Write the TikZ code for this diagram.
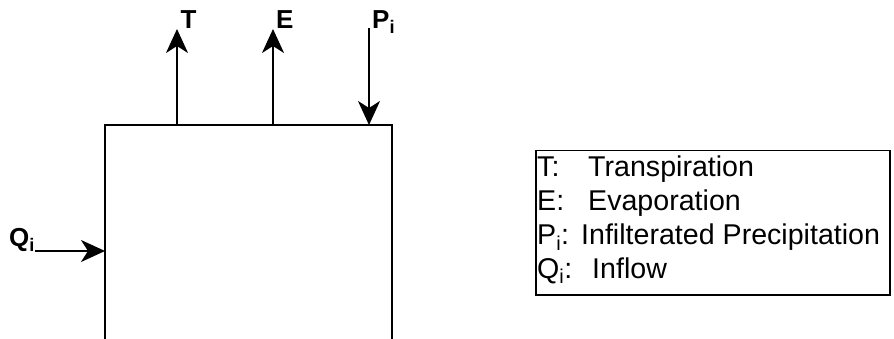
\documentclass[tikz,border=0pt]{standalone}
\usepackage{fontspec}
\setmainfont{Liberation Sans}
\usetikzlibrary{arrows.meta}
\begin{document}
\begin{tikzpicture}[x=1pt,y=-1pt,
  flow/.style={line width=2pt,-{Stealth[length=24pt,width=22pt,inset=7pt]}},
  wall/.style={line width=2pt},
  lbl/.style={font=\fontsize{26}{30}\selectfont\bfseries,inner sep=0pt,anchor=base west},
  legline/.style={font=\fontsize{28.6}{34}\selectfont,inner sep=0pt,anchor=base west},
  legbox/.style={draw,line width=1.5pt,inner sep=0pt}]
\useasboundingbox (0,0) rectangle (894,339);
% open-bottom box
\coordinate (bl) at (105,340);
\coordinate (tl) at (105,125);
\coordinate (tr) at (392,125);
\coordinate (br) at (392,340);
\draw[wall] (bl) -- (tl) -- (tr) -- (br);
% transpiration
\coordinate (tb) at (177,125);
\coordinate (tt) at (177,29);
\draw[flow] (tb) -- (tt);
\node[lbl] (T) at (180.5,29) {T};
% evaporation
\coordinate (eb) at (273,125);
\coordinate (et) at (273,29);
\draw[flow] (eb) -- (et);
\node[lbl] (E) at (276,29) {E};
% precipitation
\coordinate (pt) at (369,28);
\coordinate (pb) at (369,125);
\draw[flow] (pt) -- (pb);
\node[lbl] (P) at (372,29) {P\textsubscript{i}};
% inflow
\node[lbl] (Q) at (9,247) {Q\textsubscript{i}};
\coordinate (qs) at (35,251);
\coordinate (qe) at (105,251);
\draw[flow] (qs) -- (qe);
% legend
\node[legbox,minimum width=354pt,minimum height=144pt,anchor=north west] (leg) at (535,150) {};
\node[legline] (l1) at (537,177) {\makebox[51pt][l]{T:}Transpiration};
\node[legline] (l2) at (537,210.7) {\makebox[51pt][l]{E:}Evaporation};
\node[legline] (l3) at (537,244.4) {\makebox[44pt][l]{P\textsubscript{i}:}Infilterated Precipitation};
\node[legline] (l4) at (537,278) {\makebox[55pt][l]{Q\textsubscript{i}:}Inflow};
\end{tikzpicture}
\end{document}
